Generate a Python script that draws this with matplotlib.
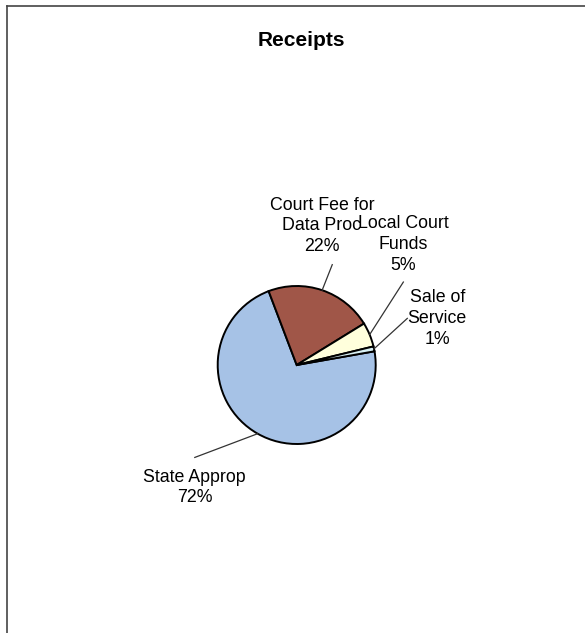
import numpy as np
import matplotlib
matplotlib.use("Agg")
import matplotlib.pyplot as plt
from matplotlib.lines import Line2D

plt.rcParams["font.family"] = ["Liberation Sans", "DejaVu Sans"]

# 数据
labels = ["State Approp", "Court Fee for\nData Proc", "Local Court\nFunds", "Sale of\nService"]
values = [72, 22, 5, 1]
colors = ["#A6C2E6", "#A05648", "#FFFFDC", "#D8F0F4"]

# 标签位置 (以半径为单位, 相对圆心) 和引线末端
label_pos = [(-1.29, -1.55), (0.32, 1.76), (1.35, 1.53), (1.78, 0.59)]
leader_end = [(-1.29, -1.17), (0.45, 1.27), (1.35, 1.05), (1.40, 0.59)]

W, H = 585, 633
cx, cy, r = 296.7, 365.0, 79.0

fig = plt.figure(figsize=(W / 100, H / 100), dpi=100)
ax = fig.add_axes([0, 0, 1, 1])

wedges, _ = ax.pie(values, colors=colors, startangle=10, counterclock=False,
                   radius=1.0, center=(0, 0), frame=True,
                   wedgeprops=dict(edgecolor="black", linewidth=1.4))
ax.set_xlim(-cx / r, (W - cx) / r)
ax.set_ylim(-(H - cy) / r, cy / r)
ax.set_aspect("auto")
ax.axis("off")

for w, lab, v, (lx, ly), (ex, ey) in zip(wedges, labels, values, label_pos, leader_end):
    mid = np.deg2rad((w.theta1 + w.theta2) / 2)
    px, py = np.cos(mid), np.sin(mid)
    ax.plot([px, ex], [py, ey], color="#333333", lw=0.9)
    ax.text(lx, ly, f"{lab}\n{v}%", ha="center", va="center", fontsize=12.8,
            linespacing=1.3)

fig.text(301 / W, 1 - 40 / H, "Receipts", ha="center", va="center",
         fontsize=15, fontweight="bold")

# 边框 (左, 上)
fig.add_artist(Line2D([7 / W, 7 / W], [0, 1 - 6 / H], color="#444444", lw=1.2,
                      transform=fig.transFigure))
fig.add_artist(Line2D([7 / W, 1], [1 - 6 / H, 1 - 6 / H], color="#444444", lw=1.2,
                      transform=fig.transFigure))

fig.savefig("out.png", dpi=100, facecolor="white")
